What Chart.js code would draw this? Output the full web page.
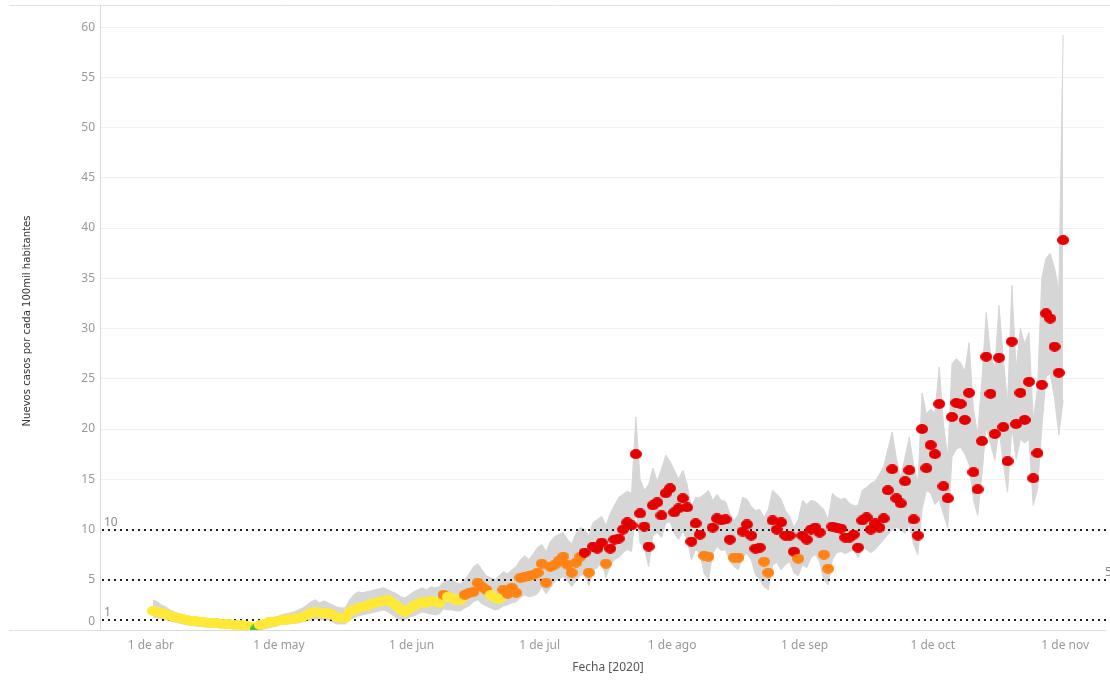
<!DOCTYPE html>
<html lang="es">
<head>
<meta charset="utf-8">
<title>Nuevos casos por cada 100mil habitantes</title>
<script src="https://cdn.jsdelivr.net/npm/chart.js@4.4.1/dist/chart.umd.min.js"></script>
<style>
  html, body { margin: 0; padding: 0; background: #fff; }
  #grafico { display: block; }
</style>
</head>
<body>
<canvas id="grafico" width="1110" height="682"></canvas>
<script>
// ---------- DATOS (1 abr 2020 = dia 0) ----------
const etiquetasMes = ['1 de abr', '1 de may', '1 de jun', '1 de jul', '1 de ago', '1 de sep', '1 de oct', '1 de nov'];
const diasMes = [0, 30, 61, 91, 122, 153, 183, 214];
const lineasRef = [1, 5, 10];

// casos diarios por cada 100mil habitantes
const casos = [
  // abr
  1.9, 1.8, 1.7, 1.6, 1.4, 1.3, 1.2, 1.1, 1.0, 0.9, 0.85, 0.8, 0.75, 0.7, 0.7, 0.65, 0.6, 0.6, 0.55, 0.5,
  0.5, 0.45, 0.4, 0.3, 0.05, 0.5, 0.6, 0.75, 0.8, 0.9,
  // may
  1.0, 1.0, 1.1, 1.1, 1.2, 1.3, 1.5, 1.7, 1.8, 1.7, 1.7, 1.7, 1.5, 1.3, 1.2, 1.2, 1.8, 2.0, 2.2, 2.3,
  2.4, 2.6, 2.7, 2.8, 2.9, 3.0, 2.7, 2.4, 2.0, 1.8, 2.1,
  // jun
  2.4, 2.6, 2.8, 2.7, 2.9, 2.8, 2.7, 3.5, 3.3, 3.2, 3.0, 3.0, 3.5, 3.7, 3.8, 4.7, 4.3, 4.0, 3.5, 3.2,
  3.1, 4.0, 3.6, 4.2, 3.7, 5.2, 5.3, 5.4, 5.5, 5.7,
  // jul
  6.6, 4.7, 6.3, 6.5, 6.9, 7.3, 6.5, 5.7, 6.7, 7.3, 7.7, 5.7, 8.3, 8.1, 8.7, 6.6, 8.1, 9.0, 9.1, 10.0,
  10.7, 10.4, 17.5, 11.6, 10.3, 8.3, 12.4, 12.7, 11.4, 13.6, 14.1,
  // ago
  11.7, 12.1, 13.1, 12.2, 8.8, 10.6, 9.5, 7.4, 7.3, 10.2, 11.1, 10.9, 11.0, 9.0, 7.2, 7.2, 9.8, 10.5, 9.4, 8.1,
  8.2, 6.8, 5.7, 10.9, 10.0, 10.7, 9.4, 9.4, 7.8, 7.1, 9.4,
  // sep
  9.0, 10.0, 10.2, 9.7, 7.5, 6.1, 10.3, 10.2, 10.1, 9.2, 9.2, 9.5, 8.2, 10.9, 11.2, 10.0, 10.6, 10.2, 11.1, 13.9,
  16.0, 13.1, 12.6, 14.8, 15.9, 11.0, 9.4, 20.0, 16.1, 18.4,
  // oct
  17.5, 22.5, 14.3, 13.1, 21.2, 22.6, 22.5, 20.9, 23.6, 15.7, 14.0, 18.8, 27.2, 23.5, 19.5, 27.1, 20.2, 16.8, 28.7, 20.5,
  23.6, 20.9, 24.7, 15.1, 17.6, 24.4, 31.5, 31.0, 28.2, 25.6, 38.8
];

// intervalo (banda gris)
const bandaSup = [
  3.0, 2.8, 2.5, 2.3, 2.0, 1.8, 1.6, 1.5, 1.4, 1.3, 1.2, 1.1, 1.0, 1.0, 0.9, 0.9, 0.8, 0.8, 0.8, 0.7,
  0.7, 0.7, 0.6, 0.5, 0.3, 0.7, 0.9, 1.1, 1.2, 1.3,
  1.5, 1.6, 1.7, 1.8, 2.0, 2.2, 2.5, 2.8, 3.0, 2.7, 2.9, 2.7, 2.5, 2.3, 2.2, 2.2, 3.0, 3.5, 3.8, 3.7,
  3.8, 3.9, 4.0, 4.1, 4.2, 4.0, 3.8, 3.6, 3.3, 3.2, 3.5,
  3.8, 4.0, 4.2, 4.0, 4.3, 4.2, 4.3, 4.8, 4.9, 5.0, 4.7, 4.6, 5.0, 5.6, 6.3, 6.6, 6.0, 5.4, 5.2, 5.0,
  5.4, 5.8, 5.6, 6.0, 6.3, 7.0, 7.4, 7.0, 7.6, 8.2,
  8.5, 7.8, 8.8, 9.3, 9.5, 9.7, 9.0, 8.6, 9.6, 10.2, 10.0, 9.4, 10.7, 11.0, 11.3, 10.4, 11.6, 12.4, 13.2, 13.5,
  13.8, 13.6, 21.2, 15.0, 13.9, 14.5, 16.1, 14.8, 16.0, 17.4, 16.8,
  15.9, 15.0, 15.9, 14.5, 12.2, 13.2, 13.2, 13.5, 13.9, 12.9, 13.5, 12.9, 12.8, 11.6, 10.9, 11.5, 13.2, 13.0, 12.3, 11.9,
  12.0, 11.2, 12.0, 13.9, 13.5, 13.0, 11.9, 11.3, 10.2, 11.0, 12.9,
  12.5, 12.9, 12.8, 12.4, 12.0, 11.0, 13.6, 13.2, 13.0, 13.1, 12.6, 12.4, 12.4, 13.9, 14.2, 14.6, 14.8, 15.5, 16.3, 18.0,
  19.7, 17.0, 15.2, 17.2, 19.2, 16.5, 14.6, 23.6, 21.5, 22.0,
  21.6, 26.2, 20.5, 17.2, 26.5, 27.0, 26.6, 25.8, 28.6, 22.0, 19.5, 25.0, 31.6, 27.5, 26.0, 32.3, 27.0, 22.5, 34.3, 26.0,
  30.0, 28.5, 29.6, 21.0, 24.0, 35.0, 37.0, 37.5, 36.0, 33.8, 59.2
];
const bandaInf = [
  1.3, 1.2, 1.1, 1.0, 0.9, 0.8, 0.7, 0.6, 0.5, 0.45, 0.4, 0.35, 0.3, 0.3, 0.3, 0.25, 0.2, 0.2, 0.2, 0.15,
  0.15, 0.1, 0.1, 0.05, 0, 0.05, 0.1, 0.2, 0.3, 0.4,
  0.6, 0.6, 0.6, 0.7, 0.7, 0.8, 0.9, 1.0, 1.1, 1.0, 1.0, 1.0, 0.8, 0.6, 0.6, 0.6, 1.0, 1.2, 1.4, 1.5,
  1.6, 1.7, 1.8, 1.9, 2.0, 1.8, 1.5, 1.2, 1.0, 1.0, 1.3,
  1.4, 1.6, 1.8, 1.7, 1.6, 1.5, 1.6, 2.1, 2.0, 2.0, 1.9, 1.9, 2.2, 2.4, 2.8, 3.0, 2.6, 2.4, 2.2, 2.0,
  2.1, 2.4, 2.5, 2.7, 2.8, 3.2, 3.5, 3.3, 3.4, 3.6,
  4.3, 3.6, 4.2, 4.8, 5.1, 5.3, 4.9, 4.3, 4.9, 5.4, 5.6, 4.4, 6.0, 6.2, 6.7, 5.2, 6.4, 7.0, 7.2, 7.7,
  8.0, 7.8, 12.0, 8.6, 8.2, 6.3, 9.4, 9.7, 9.2, 10.6, 10.8,
  9.6, 9.0, 9.8, 9.0, 7.0, 8.0, 7.6, 5.6, 5.0, 7.6, 8.3, 7.9, 8.0, 6.8, 6.3, 6.0, 7.3, 7.6, 7.0, 5.5,
  5.0, 4.3, 4.0, 6.5, 6.7, 6.0, 6.5, 6.8, 5.7, 5.4, 6.5,
  6.2, 7.2, 7.5, 6.8, 5.0, 4.5, 7.0, 7.7, 7.8, 7.6, 7.8, 8.0, 7.2, 8.2, 8.0, 7.7, 8.0, 8.5, 9.0, 9.5,
  10.0, 10.2, 10.0, 9.6, 10.5, 8.5, 7.5, 12.0, 13.9, 13.6,
  12.5, 13.0, 11.5, 10.2, 17.2, 18.0, 18.2, 17.5, 16.5, 13.0, 11.4, 15.5, 20.2, 18.5, 16.9, 20.0, 16.5, 13.7, 20.2, 17.0,
  19.0, 18.6, 19.0, 12.4, 14.0, 20.0, 25.2, 25.5, 23.0, 19.4, 22.9
];

// nivel de cada punto en tramos [nivel, cantidad de dias]: G verde, Y amarillo, O naranja, R rojo
const tramosNivel = [
  ['Y', 24], ['G', 1], ['Y', 43], ['O', 1], ['Y', 4], ['O', 6], ['Y', 3], ['O', 19],
  ['R', 1], ['O', 1], ['R', 3], ['O', 1], ['R', 22], ['O', 2], ['R', 5], ['O', 2],
  ['R', 5], ['O', 2], ['R', 6], ['O', 1], ['R', 5], ['O', 2], ['R', 55]
];

const COLORES = { G: '#4cc23a', Y: '#ffe936', O: '#ff8314', R: '#e50000' };
const GRIS_BANDA = '#d6d6d6';
const FUENTE = '"Noto Sans", "Open Sans", sans-serif';
const MEDIODIA = 0.5; // cada registro se ubica a mitad del dia

const niveles = [];
tramosNivel.forEach(([n, k]) => { for (let i = 0; i < k; i++) niveles.push(n); });

// punto eliptico como en el original
function elipse(color) {
  const c = document.createElement('canvas');
  c.width = 12;
  c.height = 10;
  const g = c.getContext('2d');
  g.fillStyle = color;
  g.beginPath();
  g.ellipse(6, 5, 6, 5, 0, 0, Math.PI * 2);
  g.fill();
  return c;
}
const estilos = {};
Object.keys(COLORES).forEach(k => { estilos[k] = elipse(COLORES[k]); });

// ----------- PLUGIN: marco, lineas de referencia, titulos -----------
const marco = {
  id: 'marco',
  beforeDraw(chart) {
    const { ctx, chartArea: a } = chart;
    ctx.save();
    ctx.fillStyle = '#fff';
    ctx.fillRect(0, 0, chart.width, chart.height);
    ctx.strokeStyle = '#e2e2e2';
    ctx.lineWidth = 1;
    ctx.beginPath();
    ctx.moveTo(9, a.top + 0.5);
    ctx.lineTo(chart.width, a.top + 0.5);
    ctx.moveTo(9, a.bottom + 0.5);
    ctx.lineTo(a.left, a.bottom + 0.5);
    ctx.stroke();
    ctx.restore();
  },
  afterDatasetDraw(chart, args) {
    if (args.index !== 1) return;
    const { ctx, chartArea: a, scales } = chart;
    ctx.save();
    ctx.strokeStyle = '#1e1e1e';
    ctx.lineWidth = 2;
    ctx.setLineDash([2, 4]);
    lineasRef.forEach(v => {
      const y = Math.round(scales.y.getPixelForValue(v));
      ctx.beginPath();
      ctx.moveTo(a.left + 2, y);
      ctx.lineTo(chart.width, y);
      ctx.stroke();
    });
    ctx.setLineDash([]);
    ctx.fillStyle = '#8a8a8a';
    ctx.font = '12px ' + FUENTE;
    ctx.textBaseline = 'alphabetic';
    ctx.textAlign = 'left';
    ctx.fillText('10', a.left + 4, scales.y.getPixelForValue(10) - 4);
    ctx.fillText('1', a.left + 4, scales.y.getPixelForValue(1) - 4);
    ctx.fillText('5', chart.width - 5, scales.y.getPixelForValue(5) - 4);
    ctx.restore();
  },
  afterDraw(chart) {
    const { ctx, chartArea: a } = chart;
    ctx.save();
    // etiqueta 0 (un poco por encima del eje)
    ctx.fillStyle = '#999';
    ctx.font = '12px ' + FUENTE;
    ctx.textAlign = 'right';
    ctx.textBaseline = 'middle';
    ctx.fillText('0', a.left - 5, a.bottom - 8);
    // titulo eje y
    ctx.translate(27, 321);
    ctx.rotate(-Math.PI / 2);
    ctx.textAlign = 'center';
    ctx.fillStyle = '#333';
    ctx.font = '11.2px "Liberation Sans Narrow", "DejaVu Sans Condensed", sans-serif';
    ctx.fillText('Nuevos casos por cada 100mil habitantes', 0, 0);
    ctx.restore();
    // titulo eje x
    ctx.save();
    ctx.fillStyle = '#555';
    ctx.font = '12px ' + FUENTE;
    ctx.textAlign = 'center';
    ctx.textBaseline = 'middle';
    ctx.fillText('Fecha [2020]', 608, 668);
    ctx.restore();
  }
};

// ----------- GRAFICO -----------
const enDia = arr => arr.map((v, i) => ({ x: i + MEDIODIA, y: v }));

new Chart(document.getElementById('grafico'), {
  type: 'line',
  data: {
    datasets: [
      {
        label: 'Casos',
        data: enDia(casos),
        showLine: false,
        pointStyle: niveles.map(n => estilos[n]),
        pointRadius: 5,
        pointHoverRadius: 5,
        pointBorderWidth: 0,
        pointBackgroundColor: niveles.map(n => COLORES[n])
      },
      {
        label: 'Superior',
        data: enDia(bandaSup),
        fill: '+1',
        backgroundColor: GRIS_BANDA,
        borderColor: GRIS_BANDA,
        borderWidth: 1,
        pointRadius: 0,
        tension: 0
      },
      {
        label: 'Inferior',
        data: enDia(bandaInf),
        fill: false,
        borderColor: GRIS_BANDA,
        borderWidth: 1,
        pointRadius: 0,
        tension: 0
      }
    ]
  },
  options: {
    responsive: false,
    animation: false,
    layout: { padding: { top: 5, right: 0, left: 0, bottom: 0 } },
    plugins: {
      legend: { display: false },
      tooltip: { enabled: false }
    },
    scales: {
      x: {
        type: 'linear',
        min: -11.9,
        max: 223.3,
        afterBuildTicks: s => { s.ticks = diasMes.map(v => ({ value: v })); },
        afterFit: s => { s.height = 52; s.paddingLeft = 0; s.paddingRight = 0; },
        ticks: {
          color: '#999',
          font: { family: FUENTE, size: 12 },
          padding: 8,
          maxRotation: 0,
          autoSkip: false,
          callback: (v, i) => etiquetasMes[i]
        },
        grid: { display: false, drawTicks: false },
        border: { display: true, color: '#dadada' }
      },
      y: {
        type: 'linear',
        min: 0,
        max: 62.2,
        afterBuildTicks: s => { s.ticks = s.ticks.filter(t => t.value % 5 === 0); },
        afterFit: s => { s.width = 100; s.paddingTop = 0; s.paddingBottom = 0; },
        ticks: {
          stepSize: 5,
          color: '#999',
          font: { family: FUENTE, size: 12 },
          padding: 5,
          callback: v => (v === 0 ? '' : v)
        },
        grid: {
          drawTicks: false,
          color: c => (c.tick && c.tick.value === 0 ? 'rgba(0,0,0,0)' : '#f1f1f1')
        },
        border: { display: true, color: '#dadada' }
      }
    }
  },
  plugins: [marco]
});
</script>
</body>
</html>
